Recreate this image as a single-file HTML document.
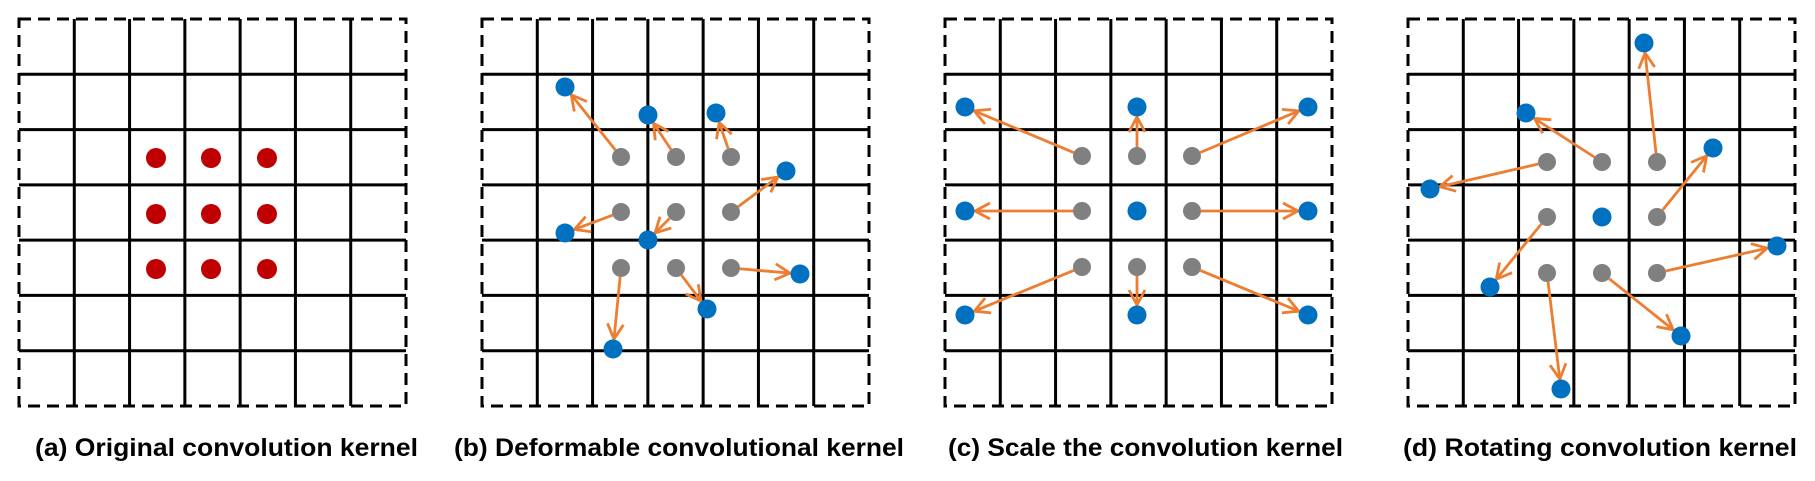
<!DOCTYPE html>
<html><head><meta charset="utf-8"><style>
html,body{margin:0;padding:0;background:#fff;}
svg{display:block;}
text{font-family:"Liberation Sans",sans-serif;font-weight:bold;font-size:25px;fill:#000;}
</style></head><body>
<svg id="s" width="1815" height="481" viewBox="0 0 1815 481" xmlns="http://www.w3.org/2000/svg">
<defs>
<marker id="ah" markerUnits="userSpaceOnUse" viewBox="0 0 20 20" markerWidth="20" markerHeight="20" refX="18" refY="10" orient="auto">
<path d="M3,2 L18,10 L3,18" fill="none" stroke="#ED7D31" stroke-width="2.8"/>
</marker>
</defs>
<g id="g"></g>
<text x="35" y="456" textLength="383" lengthAdjust="spacingAndGlyphs">(a) Original convolution kernel</text>
<text x="454" y="456" textLength="450" lengthAdjust="spacingAndGlyphs">(b) Deformable convolutional kernel</text>
<text x="948" y="456" textLength="395" lengthAdjust="spacingAndGlyphs">(c) Scale the convolution kernel</text>
<text x="1403" y="456" textLength="394" lengthAdjust="spacingAndGlyphs">(d) Rotating convolution kernel</text>
</svg>
<script>
var g=document.getElementById('g'),h='';
function grid(L){var T=19,S=387,c=S/7;
 for(var i=1;i<7;i++){var p=L+c*i,q=T+c*i;
  h+='<line x1="'+p+'" y1="'+T+'" x2="'+p+'" y2="'+(T+S)+'" stroke="#000" stroke-width="3"/>';
  h+='<line x1="'+L+'" y1="'+q+'" x2="'+(L+S)+'" y2="'+q+'" stroke="#000" stroke-width="3"/>';}
 h+='<rect x="'+L+'" y="'+T+'" width="'+S+'" height="'+S+'" fill="none" stroke="#000" stroke-width="3" stroke-dasharray="12 7"/>';}
function dot(x,y,c,r){h+='<circle cx="'+x+'" cy="'+y+'" r="'+(r||9)+'" fill="'+c+'"/>';}
function arr(x1,y1,x2,y2){var dx=x2-x1,dy=y2-y1,d=Math.sqrt(dx*dx+dy*dy),a=9/d,b=10/d;
 h+='<line x1="'+(x1+dx*a)+'" y1="'+(y1+dy*a)+'" x2="'+(x2-dx*b)+'" y2="'+(y2-dy*b)+'" stroke="#ED7D31" stroke-width="2.8" marker-end="url(#ah)"/>';}
[19,482,945,1408].forEach(grid);
[156,211,267].forEach(function(x){[158,214,269].forEach(function(y){dot(x,y,'#C00000',10);});});
var gb=[[621,157],[676,157],[731,157],[731,212],[621,212],[676,212],[731,268],[676,268],[621,268]];
var bb=[[565,87],[648,115],[716,113],[786,171],[565,233],[648,240],[800,274],[707,309],[613,349]];
var gc=[[1082,156],[1137,156],[1192,156],[1082,211],[1192,211],[1082,267],[1137,267],[1192,267]];
var bc=[[965,107],[1137,107],[1308,107],[965,211],[1308,211],[965,315],[1137,315],[1308,315]];
var gd=[[1657,162],[1602,162],[1547,162],[1657,217],[1547,217],[1657,273],[1602,273],[1547,273]];
var bd=[[1644,43],[1526,113],[1430,189],[1713,148],[1490,287],[1777,246],[1681,336],[1561,389]];
function set(G,B){G.forEach(function(p,i){dot(p[0],p[1],'#808080');arr(p[0],p[1],B[i][0],B[i][1]);});B.forEach(function(p){dot(p[0],p[1],'#0070C0',9.5);});}
set(gb,bb);set(gc,bc);set(gd,bd);
dot(1137,211,'#0070C0',9.5);dot(1602,217,'#0070C0',9.5);
g.innerHTML=h;
</script>
</body></html>
